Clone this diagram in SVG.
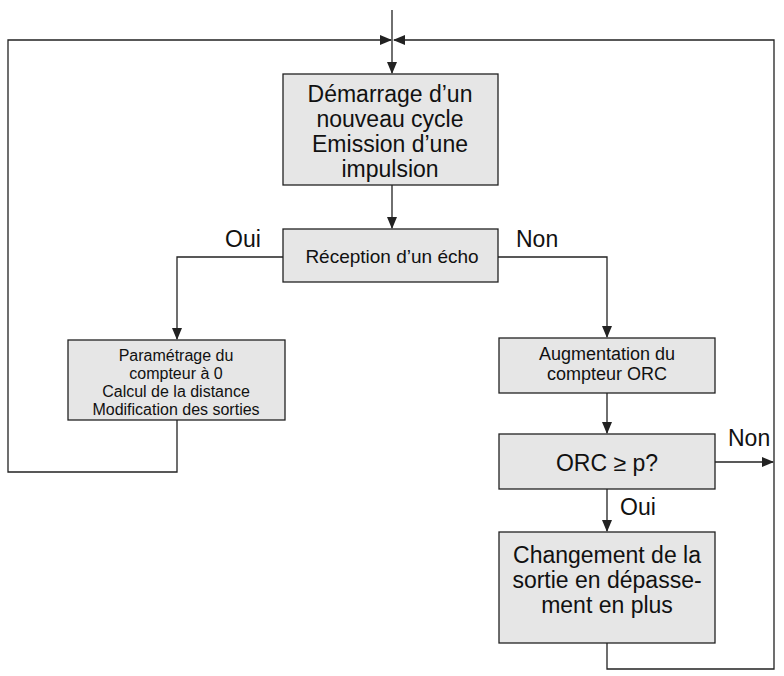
<svg xmlns="http://www.w3.org/2000/svg" width="784" height="676" viewBox="0 0 784 676">
<style>
rect{fill:#e6e6e6;stroke:#222;stroke-width:1.3}
text{font-family:"Liberation Sans",Arial,sans-serif;fill:#111;text-anchor:middle}
.c{fill:none;stroke:#222;stroke-width:1.3}
.l{text-anchor:start;font-size:23px}
</style>
<defs><marker id="a" markerWidth="12" markerHeight="10" refX="11" refY="5" orient="auto" markerUnits="userSpaceOnUse"><path d="M0,0L12,5L0,10z" fill="#222"/></marker></defs>
<rect width="784" height="676" style="fill:#fff;stroke:none"/>
<g id="connectors">
<path class="c" d="M392,10V73" marker-end="url(#a)"/>
<path class="c" d="M177,420V472H8V40H391" marker-end="url(#a)"/>
<path class="c" d="M607,643V669H774V40H394" marker-end="url(#a)"/>
<path class="c" d="M392,185V228" marker-end="url(#a)"/>
<path class="c" d="M283,257H177V339" marker-end="url(#a)"/>
<path class="c" d="M498,257H607V337" marker-end="url(#a)"/>
<path class="c" d="M607,393V433" marker-end="url(#a)"/>
<path class="c" d="M715,462H773" marker-end="url(#a)"/>
<path class="c" d="M607,489V531" marker-end="url(#a)"/>
<text x="243" y="247" class="l" style="text-anchor:middle">Oui</text>
<text x="516" y="247" class="l">Non</text>
<text x="728" y="446" class="l">Non</text>
<text x="620" y="515" class="l">Oui</text>
</g>
<g id="n1"><rect x="283" y="74" width="215" height="111"/>
<text font-size="23"><tspan x="390" y="102">Démarrage d’un</tspan><tspan x="390" y="127">nouveau cycle</tspan><tspan x="390" y="152">Emission d’une</tspan><tspan x="390" y="177">impulsion</tspan></text></g>
<g id="n2"><rect x="283" y="229" width="215" height="53"/><text x="392" y="263" font-size="19">Réception d’un écho</text></g>
<g id="n3"><rect x="68" y="340" width="217" height="80"/>
<text font-size="16"><tspan x="176" y="361">Paramétrage du</tspan><tspan x="176" y="379">compteur à 0</tspan><tspan x="176" y="397">Calcul de la distance</tspan><tspan x="176" y="415">Modification des sorties</tspan></text></g>
<g id="n4"><rect x="499" y="338" width="216" height="55"/>
<text font-size="18"><tspan x="607" y="360">Augmentation du</tspan><tspan x="607" y="380">compteur ORC</tspan></text></g>
<g id="n5"><rect x="499" y="434" width="216" height="55"/><text x="607" y="471" font-size="23"><tspan>ORC ≥ p?</tspan></text></g>
<g id="n6"><rect x="499" y="532" width="216" height="111"/>
<text font-size="23"><tspan x="607" y="563">Changement de la</tspan><tspan x="607" y="588">sortie en dépasse-</tspan><tspan x="607" y="613">ment en plus</tspan></text></g>
</svg>
